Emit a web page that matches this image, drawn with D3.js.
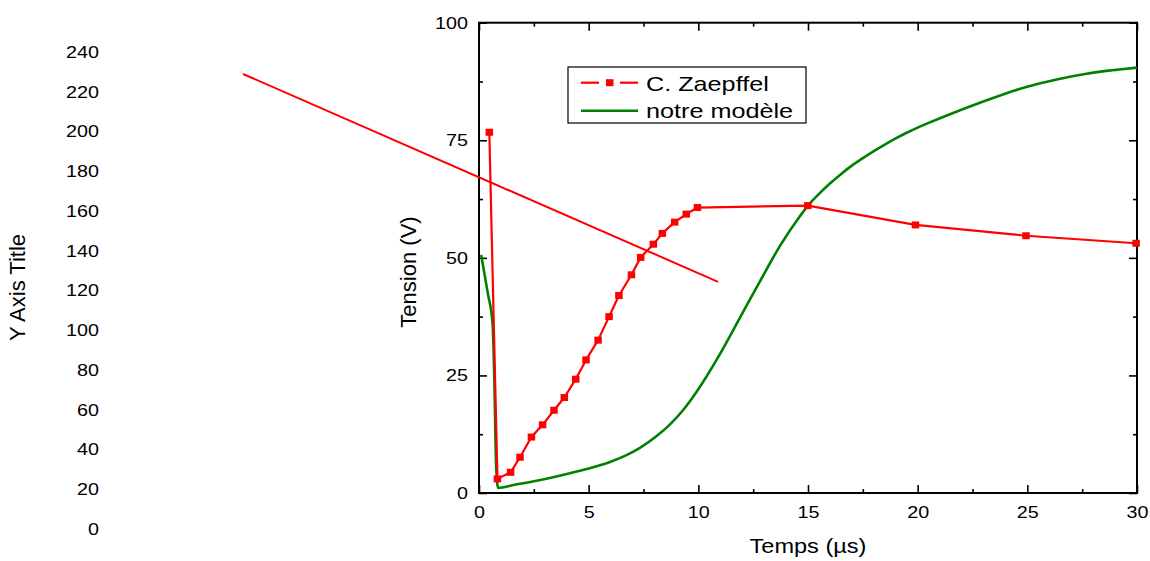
<!DOCTYPE html>
<html>
<head>
<meta charset="utf-8">
<script src="https://cdn.jsdelivr.net/npm/d3@7"></script>
<style>
  html, body { margin: 0; padding: 0; background: #fff; }
  svg { display: block; }
  text { font-family: "Liberation Sans", Arial, sans-serif; fill: #000; }
</style>
</head>
<body>
<svg id="chart" width="1150" height="561"></svg>
<script>
// ---------------- data ----------------
const xTickValues = [0, 5, 10, 15, 20, 25, 30];
const xMinorValues = [2.5, 7.5, 12.5, 17.5, 22.5, 27.5];
const yTickValues = [0, 25, 50, 75, 100];
const yMinorValues = [12.5, 37.5, 62.5, 87.5];
const leftAxisTicks = [0, 20, 40, 60, 80, 100, 120, 140, 160, 180, 200, 220, 240];

const seriesNames = ["C. Zaepffel", "notre modèle"];

// C. Zaepffel (time µs, tension V)
const zaepffelX = [0.47, 0.84, 1.44, 1.87, 2.39, 2.90, 3.42, 3.89, 4.41, 4.88, 5.43, 5.93, 6.38, 6.95, 7.37, 7.95, 8.36, 8.92, 9.45, 9.96, 14.99, 19.9, 24.94, 29.96];
const zaepffelY = [76.7, 3.0, 4.4, 7.6, 11.9, 14.5, 17.6, 20.3, 24.2, 28.3, 32.5, 37.5, 42.0, 46.4, 50.1, 52.9, 55.2, 57.6, 59.3, 60.7, 61.1, 57.0, 54.7, 53.1];

// notre modèle
const modelX = [0.1, 0.4, 0.62, 0.7, 0.78, 0.87, 1.57, 2.63, 4.15, 4.91, 5.97, 6.7, 7.34, 8.1, 8.71, 9.3, 9.93, 10.99, 11.9, 12.81, 13.73, 14.64, 15.0, 15.5, 16.0, 16.5, 17.0, 17.5, 18.0, 18.5, 19.0, 19.5, 20.0, 20.5, 21.5, 22.5, 23.5, 24.5, 25.5, 26.5, 27.5, 28.5, 29.3, 30];
const modelY = [50.6, 42.5, 36.0, 24.0, 6.0, 1.1, 1.7, 2.6, 4.2, 5.1, 6.6, 8.0, 9.6, 12.1, 14.6, 17.6, 21.6, 29.6, 37.3, 45.0, 52.6, 58.9, 61.1, 63.6, 65.8, 67.8, 69.6, 71.2, 72.7, 74.1, 75.4, 76.6, 77.7, 78.7, 80.6, 82.4, 84.1, 85.7, 87.0, 88.1, 89.0, 89.7, 90.1, 90.45];

// straight red line (main-axis coordinates)
const trendX = [-10.76, 10.9];
const trendY = [89.1, 44.9];

// ---------------- layout ----------------
const svg = d3.select("#chart");
const plot = { left: 479, right: 1137, top: 22.7, bottom: 493 };
const RED = "#ff0000", GREEN = "#008000";
const STRETCH = 1.16;

const x = d3.scaleLinear().domain([0, 30]).range([plot.left, plot.right]);
const y = d3.scaleLinear().domain([0, 100]).range([plot.bottom, plot.top]);
const yLeft = d3.scaleLinear().domain([0, 240]).range([529, 52]);

function stretch(sel, f) {
  sel.each(function () {
    const l = this.getComputedTextLength();
    if (l > 0) d3.select(this).attr("textLength", l * f).attr("lengthAdjust", "spacingAndGlyphs");
  });
}

// ---------- orphan left axis (labels only) ----------
const orphan = svg.append("g");
orphan.selectAll("text").data(leftAxisTicks).join("text")
  .attr("x", 99).attr("y", d => yLeft(d)).attr("dy", "0.35em")
  .attr("text-anchor", "end").attr("font-size", 17).text(d => d);
stretch(orphan.selectAll("text"), STRETCH);
svg.append("text")
  .attr("transform", `translate(25,${(yLeft(0) + yLeft(240)) / 2 - 3}) rotate(-90)`)
  .attr("text-anchor", "middle").attr("font-size", 22).text("Y Axis Title");

// ---------- axes ----------
function styleAxis(g) {
  g.select(".domain").remove();
  g.selectAll(".tick line").attr("stroke", "#000").attr("stroke-width", 1.6);
  g.selectAll(".tick text").attr("font-size", 17).attr("font-family", '"Liberation Sans", Arial, sans-serif').attr("fill", "#000");
}
const fmt = d3.format("d");

const gB = svg.append("g").attr("transform", `translate(0,${plot.bottom})`)
  .call(d3.axisBottom(x).tickValues(xTickValues).tickSizeInner(-8).tickSizeOuter(0).tickPadding(13).tickFormat(fmt));
styleAxis(gB); stretch(gB.selectAll(".tick text"), STRETCH);
const gBm = svg.append("g").attr("transform", `translate(0,${plot.bottom})`)
  .call(d3.axisBottom(x).tickValues(xMinorValues).tickSizeInner(-4).tickSizeOuter(0).tickFormat(""));
styleAxis(gBm);

const gT = svg.append("g").attr("transform", `translate(0,${plot.top})`)
  .call(d3.axisTop(x).tickValues(xTickValues).tickSizeInner(-8).tickSizeOuter(0).tickFormat(""));
styleAxis(gT);
const gTm = svg.append("g").attr("transform", `translate(0,${plot.top})`)
  .call(d3.axisTop(x).tickValues(xMinorValues).tickSizeInner(-4).tickSizeOuter(0).tickFormat(""));
styleAxis(gTm);

const gL = svg.append("g").attr("transform", `translate(${plot.left},0)`)
  .call(d3.axisLeft(y).tickValues(yTickValues).tickSizeInner(-8).tickSizeOuter(0).tickPadding(11).tickFormat(fmt));
styleAxis(gL); stretch(gL.selectAll(".tick text"), STRETCH);
const gLm = svg.append("g").attr("transform", `translate(${plot.left},0)`)
  .call(d3.axisLeft(y).tickValues(yMinorValues).tickSizeInner(-4).tickSizeOuter(0).tickFormat(""));
styleAxis(gLm);

const gR = svg.append("g").attr("transform", `translate(${plot.right},0)`)
  .call(d3.axisRight(y).tickValues(yTickValues).tickSizeInner(-8).tickSizeOuter(0).tickFormat(""));
styleAxis(gR);
const gRm = svg.append("g").attr("transform", `translate(${plot.right},0)`)
  .call(d3.axisRight(y).tickValues(yMinorValues).tickSizeInner(-4).tickSizeOuter(0).tickFormat(""));
styleAxis(gRm);

// frame
svg.append("rect")
  .attr("x", plot.left).attr("y", plot.top)
  .attr("width", plot.right - plot.left).attr("height", plot.bottom - plot.top)
  .attr("fill", "none").attr("stroke", "#000").attr("stroke-width", 2);

// axis titles
const xt = svg.append("text").attr("x", (plot.left + plot.right) / 2).attr("y", 553)
  .attr("text-anchor", "middle").attr("font-size", 21).text("Temps (µs)");
stretch(xt, 1.12);
svg.append("text")
  .attr("transform", `translate(416,272) rotate(-90)`)
  .attr("text-anchor", "middle").attr("font-size", 22).text("Tension (V)");

// ---------- series ----------
const modelData = modelX.map((d, i) => [d, modelY[i]]);
const zData = zaepffelX.map((d, i) => [d, zaepffelY[i]]);
const trendData = trendX.map((d, i) => [d, trendY[i]]);

const lineLin = d3.line().x(d => x(d[0])).y(d => y(d[1]));
const lineSmooth = d3.line().x(d => x(d[0])).y(d => y(d[1])).curve(d3.curveMonotoneX);

svg.append("path").datum(modelData).attr("d", lineSmooth)
  .attr("fill", "none").attr("stroke", GREEN).attr("stroke-width", 2.6).attr("stroke-linejoin", "round");

svg.append("path").datum(trendData).attr("d", lineLin)
  .attr("fill", "none").attr("stroke", RED).attr("stroke-width", 2);

svg.append("path").datum(zData).attr("d", lineLin)
  .attr("fill", "none").attr("stroke", RED).attr("stroke-width", 2.2).attr("stroke-linejoin", "round");

const MW = 7.5, MH = 7;
svg.append("g").selectAll("rect").data(zData).join("rect")
  .attr("x", d => x(d[0]) - MW / 2).attr("y", d => y(d[1]) - MH / 2)
  .attr("width", MW).attr("height", MH).attr("fill", RED);

// ---------- legend ----------
const lg = svg.append("g");
lg.append("rect").attr("x", 568).attr("y", 67).attr("width", 238).attr("height", 56)
  .attr("fill", "#fff").attr("stroke", "#000").attr("stroke-width", 1.2);
// row 1: dashed red with square
lg.append("line").attr("x1", 581).attr("x2", 599).attr("y1", 82.7).attr("y2", 82.7).attr("stroke", RED).attr("stroke-width", 2.2);
lg.append("line").attr("x1", 620).attr("x2", 638).attr("y1", 82.7).attr("y2", 82.7).attr("stroke", RED).attr("stroke-width", 2.2);
lg.append("rect").attr("x", 606).attr("y", 79.2).attr("width", 7.5).attr("height", 7).attr("fill", RED);
// row 2: green solid
lg.append("line").attr("x1", 581).attr("x2", 638).attr("y1", 110.7).attr("y2", 110.7).attr("stroke", GREEN).attr("stroke-width", 2.6);
const lt = lg.selectAll("text.lab").data(seriesNames).join("text").attr("class", "lab")
  .attr("x", 646).attr("y", (d, i) => 90.7 + i * 27.6)
  .attr("font-size", 21).text(d => d);
stretch(lt, 1.2);
</script>
</body>
</html>
